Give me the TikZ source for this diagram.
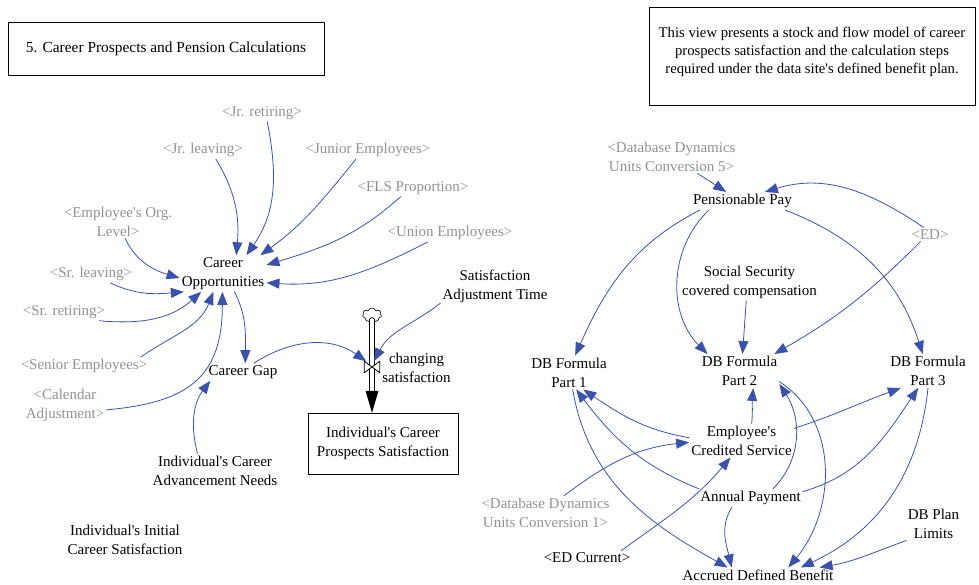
\documentclass[tikz,border=0pt]{standalone}
\usepackage{fontspec}
\setmainfont{Liberation Serif}
\usetikzlibrary{arrows.meta,shapes.symbols}

\definecolor{linkblue}{RGB}{58,82,172}
\definecolor{ghostgray}{RGB}{145,145,145}
\newcommand{\ap}{\textquotesingle}

\begin{document}
\begin{tikzpicture}[x=1pt,y=1pt,line cap=round,line join=round,
    var/.style={align=center,inner sep=2pt,font=\fontsize{15}{19}\selectfont},
    ghost/.style={var,text=ghostgray},
    link/.style={draw=linkblue,line width=0.8pt,-{Triangle[length=13pt,width=10pt]}},
    pipe/.style={double distance=4pt,line width=0.9pt}]
  \useasboundingbox (0,0) rectangle (979,-585);

  % text boxes
  \node[draw,minimum width=316,minimum height=53,font=\fontsize{15.4}{19}\selectfont]
    (title) at (166,-48.5) {5. Career Prospects and Pension Calculations};
  \node[draw,minimum width=326,minimum height=98] (note) at (812,-56) {};
  \node[align=center,inner sep=0pt,font=\fontsize{14.7}{18}\selectfont]
    (notetext) at ([yshift=4pt]note.center)
    {This view presents a stock and flow model of career\\
     prospects satisfaction and the calculation steps\\
     required under the data site\ap s defined benefit plan.};

  % career side
  \node[ghost] (jrret) at (262,-113) {<Jr. retiring>};
  \node[ghost] (jrleave) at (203,-150) {<Jr. leaving>};
  \node[ghost] (junior) at (368,-150) {<Junior Employees>};
  \node[ghost] (fls) at (413,-188) {<FLS Proportion>};
  \node[ghost] (orglevel) at (118,-221.5) {<Employee\ap s Org.\\Level>};
  \node[ghost] (union) at (450,-233) {<Union Employees>};
  \node[ghost] (srleave) at (91,-274) {<Sr. leaving>};
  \node[ghost] (srret) at (64,-312) {<Sr. retiring>};
  \node[ghost] (senior) at (84,-366) {<Senior Employees>};
  \node[ghost] (calendar) at (65,-405.5) {<Calendar\\Adjustment>};
  \node[var] (careeropp) at (223,-273.5) {Career\\Opportunities};
  \node[var] (gap) at (243,-372) {Career Gap};
  \node[var] (needs) at (215,-470.5) {Individual\ap s Career\\Advancement Needs};
  \node[var] (initial) at (125,-539.5) {Individual\ap s Initial\\Career Satisfaction};
  \node[var] (adjtime) at (495,-286.5) {Satisfaction\\Adjustment Time};

  % stock and flow
  \node[draw,var,minimum width=150,minimum height=61] (stock) at (383,-443.5)
    {Individual\ap s Career\\Prospects Satisfaction};
  \node[draw,cloud,cloud puffs=7,aspect=1.3,minimum width=19,minimum height=14,
    inner sep=0pt,line width=0.6pt] (source) at (372,-315) {};
  \node[minimum width=15,minimum height=11,inner sep=0pt] (valve) at (372,-367) {};
  \node[var] (changing) at (416.5,-367.5) {changing\\satisfaction};
  \draw[pipe] (source.south) -- ([yshift=21pt]source.south |- stock.north);
  \fill (source.south |- stock.north) -- ++(-6.5,22) -- ++(13,0) -- cycle;
  \draw[line width=0.8pt,fill=white] (valve.north west) -- (valve.south west)
    -- (valve.north east) -- (valve.south east) -- cycle;

  % pension side
  \node[ghost] (dduc5) at (671.5,-156.5) {<Database Dynamics\\Units Conversion 5>};
  \node[var] (pay) at (742.5,-201) {Pensionable Pay};
  \node[ghost] (ed) at (930,-234.5) {<ED>};
  \node[var] (ssc) at (749.5,-282.5) {Social Security\\covered compensation};
  \node[var] (part1) at (569,-372.5) {DB Formula\\Part 1};
  \node[var] (part2) at (739.5,-371) {DB Formula\\Part 2};
  \node[var] (part3) at (928,-371) {DB Formula\\Part 3};
  \node[var] (credited) at (741.5,-440.5) {Employee\ap s\\Credited Service};
  \node[var] (annual) at (750.5,-498) {Annual Payment};
  \node[ghost] (dduc1) at (545.5,-512.5) {<Database Dynamics\\Units Conversion 1>};
  \node[var] (edcur) at (587,-558) {<ED Current>};
  \node[var] (limits) at (933.5,-523.5) {DB Plan\\Limits};
  \node[var] (accrued) at (758,-575) {Accrued Defined Benefit};

  % links into career opportunities
  \draw[link] (jrret.-59) to[out=-79,in=55] (careeropp.38);
  \draw[link] (jrleave.-35) to[out=-59,in=85] (careeropp.54);
  \draw[link] (junior.-143) to[out=-129,in=36] (careeropp.26);
  \draw[link] (fls.-145) to[out=-138,in=17] (careeropp.11);
  \draw[link] (union.-158) to[out=-153,in=-4] (careeropp.-12);
  \draw[link] (orglevel.-67) to[out=-65,in=163] (careeropp.186);
  \draw[link] (srleave.-25) to[out=-25,in=185] (careeropp.-155);
  \draw[link] (srret.-14) to[out=-5,in=-138] (careeropp.-140);
  \draw[link] (senior.9) to[out=35,in=-111] (careeropp.-118);
  \draw[link] (calendar.-6) to[out=5,in=-90,looseness=1.3] (careeropp.-92);
  \draw[link] (careeropp.-58) to[out=-63,in=90] (gap.75);
  \draw[link] (needs.136) to[out=104,in=-127] (gap.-165);
  \draw[link] (gap.39) to[out=33,in=145] (valve.135);
  \draw[link] (adjtime.-163) to[out=-142,in=63] (valve.70);

  % links of the pension calculation
  \draw[link] (dduc5.-33) -- (pay.151);
  \draw[link] (ed.132) to[out=146,in=17] (pay.22);
  \draw[link] (ed.-143) to[out=-135,in=30] (part2.26);
  \draw[link] (pay.-168) to[out=-153,in=66] (part1.70);
  \draw[link] (pay.-165) to[out=-136,in=135] (part2.152);
  \draw[link] (pay.-12) to[out=-21,in=108] (part3.107);
  \draw[link] (ssc.-100) -- (part2.80);
  \draw[link] (credited.59) to[out=85,in=-95] (part2.-51);
  \draw[link] (credited.177) to[out=170,in=-34] (part1.-50);
  \draw[link] (credited.13) to[out=18,in=200] (part3.-148);
  \draw[link] (annual.170) to[out=158,in=-53] (part1.-67);
  \draw[link] (annual.22) to[out=45,in=-57] (part2.-18);
  \draw[link] (annual.7) to[out=16,in=-124] (part3.-120);
  \draw[link] (annual.-154) to[out=-122,in=103] (accrued.164);
  \draw[link] (dduc1.42) to[out=37,in=186] (credited.182);
  \draw[link] (edcur.12) to[out=36,in=230] (credited.-123);
  \draw[link] (part1.-78) to[out=-80,in=151] (accrued.166);
  \draw[link] (part2.-15) to[out=-33,in=50] (accrued.14);
  \draw[link] (part3.-90) to[out=-96,in=25] (accrued.10);
  \draw[link] (limits.-148) to[out=-160,in=10] (accrued.7);
\end{tikzpicture}
\end{document}
